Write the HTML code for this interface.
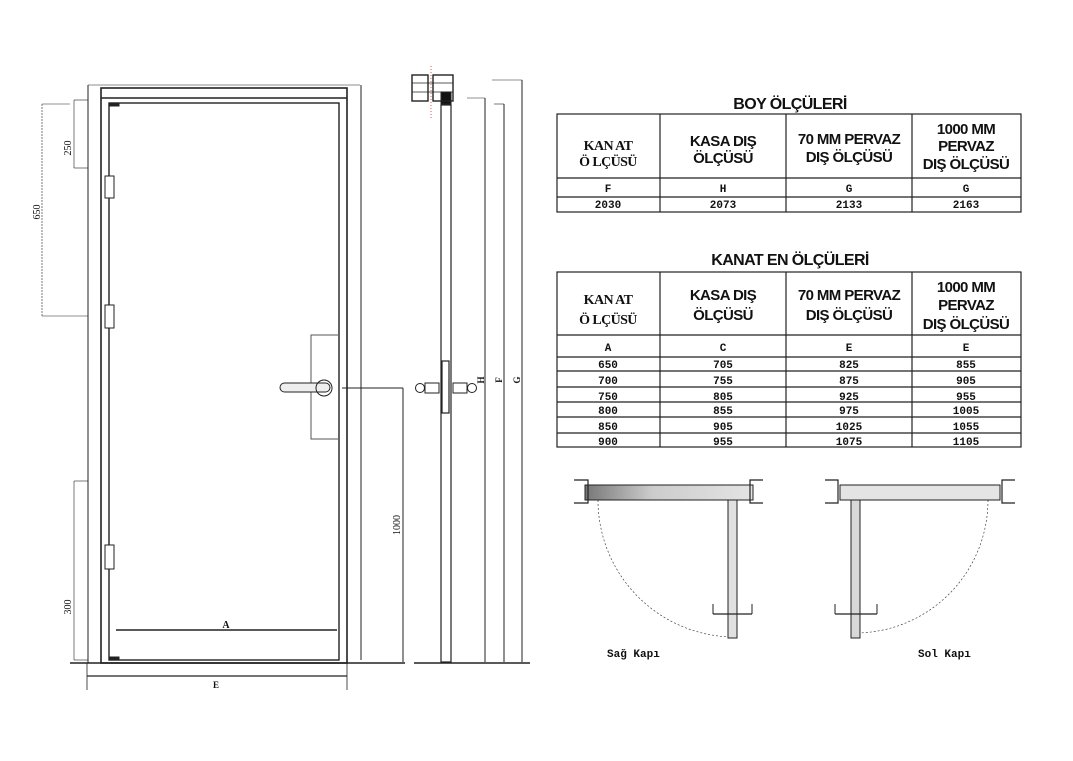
<!DOCTYPE html>
<html><head><meta charset="utf-8"><style>
html,body{margin:0;padding:0;background:#fff;}
svg{display:block;}
.t{font-family:"Liberation Sans","DejaVu Sans",sans-serif;font-weight:bold;fill:#111;letter-spacing:-0.6px;}
.m{font-family:"Liberation Mono","DejaVu Sans Mono",monospace;font-weight:bold;fill:#111;}
.s{font-family:"Liberation Serif",serif;fill:#111;}
</style></head><body>
<svg width="1073" height="761" viewBox="0 0 1073 761" xmlns="http://www.w3.org/2000/svg">
<defs>
<linearGradient id="g1" x1="0" x2="1"><stop offset="0" stop-color="#777"/><stop offset="0.4" stop-color="#ccc"/><stop offset="1" stop-color="#e4e4e4"/></linearGradient>
</defs>
<rect width="1073" height="761" fill="#fff"/>
<g stroke="#222" fill="none" stroke-width="1">
<line x1="88" y1="85" x2="360" y2="85" stroke-width="0.8" stroke="#666"/>
<rect x="101" y="88" width="246" height="575" stroke-width="1.6"/>
<line x1="101" y1="98" x2="347" y2="98" stroke-width="1.4"/>
<rect x="109" y="103" width="230" height="557" stroke-width="1.4"/>
<rect x="109" y="103" width="10" height="3" fill="#222"/>
<rect x="109" y="657" width="10" height="3" fill="#222"/>
<rect x="105" y="176" width="9" height="22" fill="#fff"/>
<rect x="105" y="305" width="9" height="23" fill="#fff"/>
<rect x="105" y="545" width="9" height="24" fill="#fff"/>
<polyline points="338,335 311,335 311,439 338,439" stroke="#555"/>
<rect x="280" y="383" width="50" height="9" rx="4.5" fill="#eee"/>
<circle cx="324" cy="388" r="8"/>
<line x1="342" y1="388" x2="403" y2="388"/>
<line x1="403" y1="388" x2="403" y2="662"/>
<line x1="70" y1="663" x2="405" y2="663" stroke-width="1.4"/>
<line x1="87" y1="676" x2="347" y2="676" stroke-width="1.3"/>
<line x1="87" y1="663" x2="87" y2="690" stroke-width="0.8"/>
<line x1="347" y1="663" x2="347" y2="690" stroke-width="0.8"/>
<line x1="116" y1="630" x2="337" y2="630" stroke-width="1.5"/>
<line x1="88" y1="85" x2="88" y2="663" stroke-width="1"/>
<line x1="361" y1="85" x2="361" y2="660" stroke-width="1"/>
<line x1="42" y1="104" x2="70" y2="104" stroke-width="0.6"/>
<line x1="42" y1="104" x2="42" y2="316" stroke-width="0.6" stroke-dasharray="2 1"/>
<line x1="42" y1="316" x2="88" y2="316" stroke-width="0.6"/>
<line x1="74" y1="100" x2="88" y2="100" stroke-width="0.6"/>
<line x1="74" y1="100" x2="74" y2="168" stroke-width="0.6"/>
<line x1="74" y1="168" x2="88" y2="168" stroke-width="0.6"/>
<line x1="74" y1="481" x2="88" y2="481" stroke-width="0.6"/>
<line x1="74" y1="481" x2="74" y2="660" stroke-width="0.6"/>
<line x1="74" y1="660" x2="88" y2="660" stroke-width="0.6"/>
<rect x="441" y="105" width="10" height="557" stroke-width="1.2"/>
<rect x="441" y="92" width="10" height="12" fill="#111"/>
<rect x="412" y="75" width="16" height="26" stroke-width="1.4"/>
<rect x="433" y="75" width="20" height="26" stroke-width="1.4"/>
<line x1="412" y1="83" x2="453" y2="83" stroke-width="0.8"/>
<line x1="412" y1="92" x2="453" y2="92" stroke-width="0.8"/>
<line x1="431" y1="66" x2="431" y2="120" stroke="#e55" stroke-dasharray="1 2"/>
<rect x="442" y="361" width="7" height="52" stroke-width="1.2"/>
<rect x="425" y="383" width="14" height="10"/>
<rect x="453" y="383" width="14" height="10"/>
<circle cx="420" cy="388" r="4.5"/>
<circle cx="472" cy="388" r="4.5"/>
<line x1="414" y1="663" x2="530" y2="663" stroke-width="1.4"/>
<line x1="467" y1="98" x2="485" y2="98" stroke-width="0.6"/>
<line x1="485" y1="98" x2="485" y2="662"/>
<line x1="494" y1="104" x2="504" y2="104" stroke-width="0.6"/>
<line x1="504" y1="104" x2="504" y2="662"/>
<line x1="492" y1="80" x2="522" y2="80" stroke-width="0.6"/>
<line x1="522" y1="80" x2="522" y2="662"/>
<path d="M598,500 A137,137 0 0 0 735,637" stroke="#444" stroke-dasharray="2 2" stroke-width="0.7"/>
<rect x="585" y="485" width="168" height="15" fill="url(#g1)"/>
<rect x="728" y="500" width="9" height="138" fill="#e0e0e0"/>
<polyline points="574,480 588,480 588,503 574,503" stroke-width="1.2"/>
<polyline points="763,480 750,480 750,503 763,503" stroke-width="1.2"/>
<line x1="713" y1="614" x2="752" y2="614" stroke-width="1.3"/>
<line x1="713" y1="604" x2="713" y2="614"/><line x1="752" y1="604" x2="752" y2="614"/>
<path d="M988,500 A133,133 0 0 1 855,633" stroke="#444" stroke-dasharray="2 2" stroke-width="0.7"/>
<rect x="840" y="485" width="160" height="15" fill="#e4e4e4"/>
<rect x="851" y="500" width="9" height="138" fill="#d8d8d8"/>
<polyline points="825,480 838,480 838,503 825,503" stroke-width="1.2"/>
<polyline points="1015,480 1002,480 1002,503 1015,503" stroke-width="1.2"/>
<line x1="835" y1="614" x2="877" y2="614" stroke-width="1.3"/>
<line x1="835" y1="604" x2="835" y2="614"/><line x1="877" y1="604" x2="877" y2="614"/>
</g>
<text class="s" font-size="10" transform="translate(40,212) rotate(-90)" text-anchor="middle">650</text>
<text class="s" font-size="10" transform="translate(71,148) rotate(-90)" text-anchor="middle">250</text>
<text class="s" font-size="10" transform="translate(71,607) rotate(-90)" text-anchor="middle">300</text>
<text class="s" font-size="10" transform="translate(400,525) rotate(-90)" text-anchor="middle">1000</text>
<text class="s" font-size="10" font-weight="bold" x="226" y="628" text-anchor="middle">A</text>
<text class="s" font-size="9" font-weight="bold" x="216" y="688" text-anchor="middle">E</text>
<text class="s" font-size="9" font-weight="bold" transform="translate(484,380) rotate(-90)" text-anchor="middle">H</text>
<text class="s" font-size="9" font-weight="bold" transform="translate(502,380) rotate(-90)" text-anchor="middle">F</text>
<text class="s" font-size="9" font-weight="bold" transform="translate(520,380) rotate(-90)" text-anchor="middle">G</text>
<text class="m" font-size="11" font-weight="normal" x="607" y="657">Sağ Kapı</text>
<text class="m" font-size="11" font-weight="normal" x="918" y="657">Sol Kapı</text>
<text class="t" x="790" y="109" font-size="16" text-anchor="middle">BOY ÖLÇÜLERİ</text>
<g stroke="#222" fill="none" stroke-width="1.2">
<rect x="557" y="114" width="464" height="98"/>
<line x1="557" y1="178" x2="1021" y2="178"/><line x1="557" y1="197" x2="1021" y2="197"/>
<line x1="660" y1="114" x2="660" y2="212"/><line x1="786" y1="114" x2="786" y2="212"/><line x1="912" y1="114" x2="912" y2="212"/>
<rect x="557" y="272" width="464" height="175"/>
<line x1="557" y1="335" x2="1021" y2="335"/><line x1="557" y1="357" x2="1021" y2="357"/>
<line x1="557" y1="371" x2="1021" y2="371"/><line x1="557" y1="387" x2="1021" y2="387"/>
<line x1="557" y1="402" x2="1021" y2="402"/><line x1="557" y1="417" x2="1021" y2="417"/>
<line x1="557" y1="433" x2="1021" y2="433"/>
<line x1="660" y1="272" x2="660" y2="447"/><line x1="786" y1="272" x2="786" y2="447"/><line x1="912" y1="272" x2="912" y2="447"/>
</g>
<g class="t" font-size="15" text-anchor="middle">
<text x="608" y="150" class="s" font-weight="bold" font-size="14">KAN AT</text><text x="608" y="166" class="s" font-weight="bold" font-size="14">Ö LÇÜSÜ</text>
<text x="723" y="146">KASA DIŞ</text><text x="723" y="163">ÖLÇÜSÜ</text>
<text x="849" y="144">70 MM PERVAZ</text><text x="849" y="162">DIŞ ÖLÇÜSÜ</text>
<text x="966" y="134">1000 MM</text><text x="966" y="151">PERVAZ</text><text x="966" y="169">DIŞ ÖLÇÜSÜ</text>
<text x="608" y="304" class="s" font-weight="bold" font-size="14">KAN AT</text><text x="608" y="324" class="s" font-weight="bold" font-size="14">Ö LÇÜSÜ</text>
<text x="723" y="300">KASA DIŞ</text><text x="723" y="320">ÖLÇÜSÜ</text>
<text x="849" y="300">70 MM PERVAZ</text><text x="849" y="320">DIŞ ÖLÇÜSÜ</text>
<text x="966" y="292">1000 MM</text><text x="966" y="310">PERVAZ</text><text x="966" y="329">DIŞ ÖLÇÜSÜ</text>
</g>
<text class="t" x="790" y="265" font-size="16" text-anchor="middle">KANAT EN ÖLÇÜLERİ</text>
<g class="m" font-size="11" text-anchor="middle">
<text x="608" y="192">F</text><text x="723" y="192">H</text><text x="849" y="192">G</text><text x="966" y="192">G</text>
<text x="608" y="208">2030</text><text x="723" y="208">2073</text><text x="849" y="208">2133</text><text x="966" y="208">2163</text>
<text x="608" y="351">A</text><text x="723" y="351">C</text><text x="849" y="351">E</text><text x="966" y="351">E</text>
<text x="608" y="368">650</text><text x="723" y="368">705</text><text x="849" y="368">825</text><text x="966" y="368">855</text>
<text x="608" y="384">700</text><text x="723" y="384">755</text><text x="849" y="384">875</text><text x="966" y="384">905</text>
<text x="608" y="400">750</text><text x="723" y="400">805</text><text x="849" y="400">925</text><text x="966" y="400">955</text>
<text x="608" y="414">800</text><text x="723" y="414">855</text><text x="849" y="414">975</text><text x="966" y="414">1005</text>
<text x="608" y="430">850</text><text x="723" y="430">905</text><text x="849" y="430">1025</text><text x="966" y="430">1055</text>
<text x="608" y="445">900</text><text x="723" y="445">955</text><text x="849" y="445">1075</text><text x="966" y="445">1105</text>
</g>
</svg>
</body></html>
